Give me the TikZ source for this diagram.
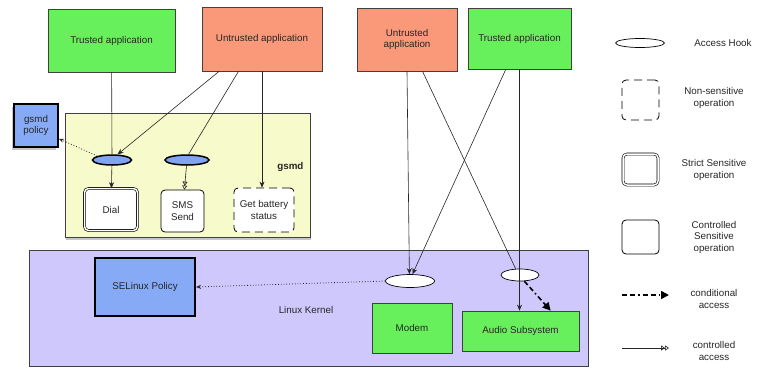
\documentclass[tikz,border=0pt]{standalone}
\usepackage{fontspec}
\setmainfont{Liberation Sans}
\definecolor{trustgreen}{RGB}{104,240,92}
\definecolor{untrust}{RGB}{250,152,122}
\definecolor{gsmdbg}{RGB}{247,250,202}
\definecolor{kernelbg}{RGB}{206,200,252}
\definecolor{policyblue}{RGB}{134,170,246}
\definecolor{hookblue}{RGB}{128,164,240}
\usetikzlibrary{arrows.meta, positioning, shapes.geometric, shadows}

\begin{document}
\begin{tikzpicture}[x=1pt, y=-1pt,
        font=\fontsize{9.8}{11.5}\selectfont,
        every node/.style={align=center, text=black!85},
        box/.style={draw=black!75, line width=0.7pt, inner sep=1pt},
        trusted/.style={box, fill=trustgreen},
        untrusted/.style={box, fill=untrust},
        policy/.style={box, fill=policyblue, line width=1.8pt, draw=black},
        layer/.style={draw=black!75, line width=0.7pt, fill=#1},
        hook/.style={ellipse, draw=black, line width=0.7pt, fill=white, inner sep=0pt},
        ghook/.style={hook, fill=hookblue, line width=1.5pt},
        op/.style={draw=black, line width=0.8pt, rounded corners=4pt, fill=white, inner sep=1pt},
        strict/.style={op, double, line width=0.6pt, double distance=1.5pt},
        nonsens/.style={op, dash pattern=on 8pt off 5pt},
        arr/.style={-{Stealth[length=6pt, width=5pt]}, line width=0.6pt, black!85},
        dotarr/.style={-{Stealth[length=5pt, width=4pt]}, dotted, thick, black!85},
        cond/.style={-{Triangle[length=8pt, width=8pt]}, line width=1.6pt, dash pattern=on 5pt off 3pt on 5pt off 3pt on 1.5pt off 3pt},
        ctl/.style={-{Triangle[open, length=4pt, width=5pt] Triangle[open, length=4pt, width=5pt]}, line width=0.6pt, black!85}
    ]
    \useasboundingbox (0,0) rectangle (764,368);

    % gsmd side
    \node[trusted, minimum width=127pt, minimum height=63pt] (tapp1) at (111.5,40.5) {Trusted application};
    \node[untrusted, minimum width=120pt, minimum height=64pt] (uapp1) at (262,39) {Untrusted application};
    \node[layer=gsmdbg, drop shadow={shadow xshift=1pt, shadow yshift=-3pt, opacity=0.45}, minimum width=245pt, minimum height=124pt] (gsmd) at (187.5,175) {};
    \node[policy, drop shadow={shadow xshift=-2pt, shadow yshift=-3pt, opacity=0.45}, minimum width=44pt, minimum height=43pt] (gsmdpol) at (36,125.5) {gsmd\\policy};
    \node[ghook, minimum width=39pt, minimum height=10pt] (hookA) at (112,160) {};
    \node[ghook, minimum width=44pt, minimum height=10pt] (hookB) at (187,160) {};
    \node[strict, minimum width=53pt, minimum height=42pt] (dial) at (111,209.5) {Dial};
    \node[op, minimum width=43pt, minimum height=42pt] (sms) at (182.5,211) {SMS\\Send};
    \node[nonsens, minimum width=60pt, minimum height=44pt] (battery) at (264,210) {Get battery\\status};
    \node[font=\fontsize{9.8}{11.5}\selectfont\bfseries, anchor=east] (gsmdlbl) at (307,167) {gsmd};

    \draw[line width=0.6pt, black!85] (tapp1) -- (hookA);
    \draw[arr] (uapp1.217) -- (hookA.45);
    \draw[line width=0.6pt, black!85] (uapp1.234) -- (hookB.75);
    \draw[arr] (uapp1.south) -- (uapp1.south |- battery.north);
    \draw[arr] (hookA) -- (dial);
    \draw[ctl] (hookB) -- (sms);
    \draw[dotarr] (hookA.165) -- (gsmdpol.-30);

    % kernel side
    \node[untrusted, minimum width=100pt, minimum height=63pt] (uapp2) at (407,39.5) {Untrusted\\application};
    \node[trusted, minimum width=103pt, minimum height=61pt] (tapp2) at (519.5,38.5) {Trusted application};
    \node[layer=kernelbg, minimum width=559pt, minimum height=116pt] (kernel) at (308.5,308) {};
    \node[policy, line width=2pt, minimum width=100pt, minimum height=58pt] (selpol) at (145,287) {SELinux Policy};
    \node (kernellbl) at (306,310) {Linux Kernel};
    \node[hook, minimum width=49pt, minimum height=13pt] (hookM) at (410,281) {};
    \node[hook, minimum width=38pt, minimum height=12pt] (hookS) at (520,275) {};
    \node[trusted, minimum width=80pt, minimum height=50pt] (modem) at (412,328) {Modem};
    \node[trusted, minimum width=117pt, minimum height=40pt] (audio) at (520.5,331) {Audio Subsystem};

    \draw[arr] (uapp2.south) -- (hookM.95);
    \draw[arr] (tapp2.246) -- (hookM.70);
    \draw[line width=0.6pt, black!85] (uapp2.-64) -- (hookS.125);
    \draw[arr] (tapp2.south) -- (tapp2.south |- audio.north);
    \draw[cond] (hookS.-55) -- (audio.34);
    \draw[dotarr] (hookM.west) -- (selpol.east);

    % legend
    \node[hook, minimum width=49pt, minimum height=9pt] (lhook) at (640,43) {};
    \node (lhooktxt) at (723,43) {Access Hook};
    \node[nonsens, minimum width=37pt, minimum height=40pt] (lnon) at (640.5,100) {};
    \node (lnontxt) at (714,98) {Non-sensitive\\operation};
    \node[strict, minimum width=35pt, minimum height=31pt] (lstrict) at (640.5,169.5) {};
    \node (lstricttxt) at (714,170) {Strict Sensitive\\operation};
    \node[op, minimum width=37pt, minimum height=34pt] (lctrl) at (640.5,237) {};
    \node (lctrltxt) at (714,237) {Controlled\\Sensitive\\operation};
    \coordinate (lc1) at (622,295);
    \coordinate (lc2) at (669,295);
    \draw[cond] (lc1) -- (lc2);
    \node (lcondtxt) at (714,299) {conditional\\access};
    \coordinate (lt1) at (622,348);
    \coordinate (lt2) at (669,348);
    \draw[ctl] (lt1) -- (lt2);
    \node (lctltxt) at (714,351) {controlled\\access};
\end{tikzpicture}
\end{document}
